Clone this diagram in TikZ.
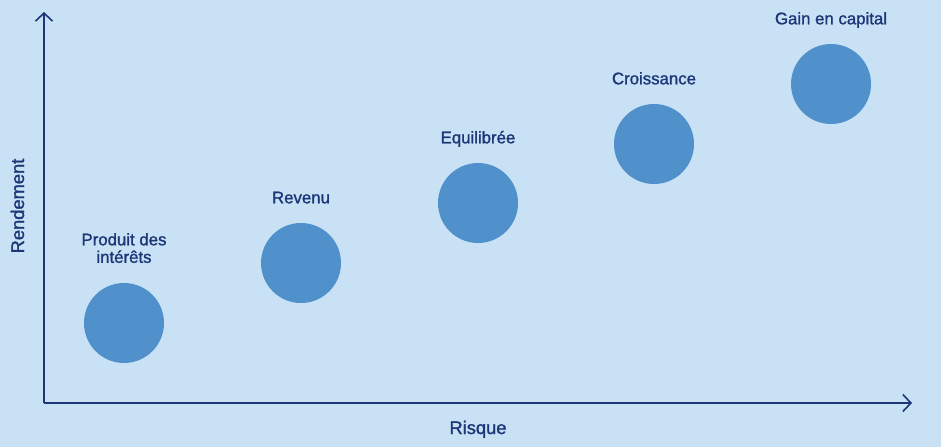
\documentclass[tikz,border=0pt]{standalone}
\usepackage{fontspec}
\setmainfont{Liberation Sans}
\newfontfamily\medfont{Liberation Sans}[RawFeature={embolden=1.3}]
\usetikzlibrary{arrows.meta}
\definecolor{bgblue}{HTML}{C9E1F4}
\definecolor{dotblue}{HTML}{5091CC}
\definecolor{navy}{HTML}{1B3778}
\begin{document}
\begin{tikzpicture}[x=1pt,y=-1pt,
  dot/.style={circle,fill=dotblue,minimum size=80pt,inner sep=0pt},
  lbl/.style={text=navy,font=\medfont\fontsize{16.8}{17.5}\selectfont,align=center,inner sep=0pt},
  axlbl/.style={text=navy,font=\medfont\fontsize{18.3}{20}\selectfont,inner sep=0pt},
  axis/.style={draw=navy,line width=1.6pt,-{Straight Barb[length=8pt,width=17pt,line width=1.6pt]}}]
\fill[bgblue] (0,0) rectangle (941,447);
\useasboundingbox (0,0) rectangle (941,447);
\coordinate (o) at (44,403);
\coordinate (ytop) at (44,12);
\coordinate (xend) at (912,403);
\draw[axis] (o) -- (ytop);
\draw[axis] (o) -- (xend);
\node[dot] (c1) at (124,323) {};
\node[dot] (c2) at (301,263) {};
\node[dot] (c3) at (478,203) {};
\node[dot] (c4) at (654,144) {};
\node[dot] (c5) at (831,84) {};
\node[lbl,anchor=base] (l1) at ([yshift=20pt]c1.north) {Produit des\\intérêts};
\node[lbl,anchor=base] (l2) at ([yshift=19.5pt]c2.north) {Revenu};
\node[lbl,anchor=base] (l3) at ([yshift=19.5pt]c3.north) {Equilibrée};
\node[lbl,anchor=base] (l4) at ([yshift=19.5pt]c4.north) {Croissance};
\node[lbl,anchor=base] (l5) at ([yshift=19.5pt]c5.north) {Gain en capital};
\node[axlbl,anchor=base] (rx) at (478,434) {Risque};
\node[axlbl,rotate=90,anchor=base] (ry) at (24,206) {Rendement};
\end{tikzpicture}
\end{document}
